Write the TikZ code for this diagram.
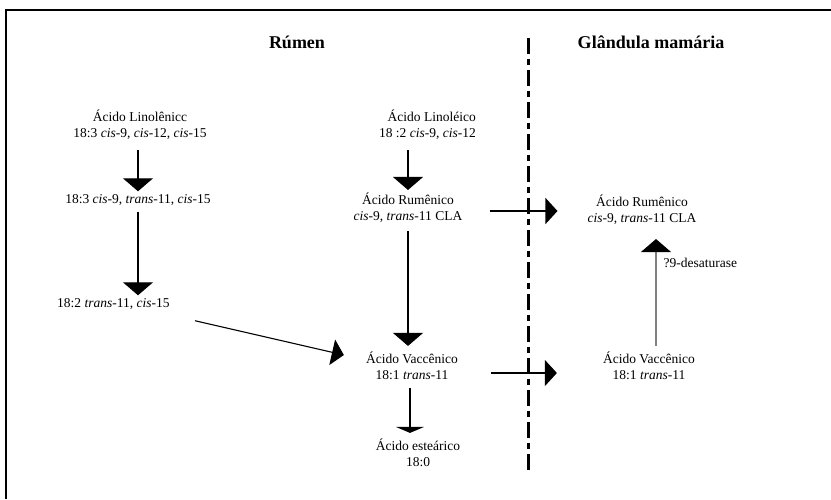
\documentclass[tikz,border=0pt]{standalone}
\usepackage{fontspec}
\setmainfont{Liberation Serif}
\usetikzlibrary{arrows.meta}

\begin{document}
\begin{tikzpicture}[x=1pt, y=-1pt, inner sep=0pt, font=\fontsize{13.5}{16}\selectfont]
    \tikzstyle{acid}=[align=center]
    \tikzstyle{title}=[font=\fontsize{18}{20}\selectfont\bfseries]
    \tikzstyle{down}=[-{Triangle[length=13pt,width=30pt]}, line width=1.1pt]
    \tikzstyle{flat}=[-{Triangle[length=6pt,width=28pt]}, line width=1.1pt]
    \tikzstyle{side}=[-{Triangle[length=12pt,width=26pt]}, line width=1.1pt]
    \tikzstyle{up}=[-{Triangle[length=13pt,width=30pt,color=black]}, line width=1.1pt, draw=gray]

    \useasboundingbox (0,0) rectangle (831,499);

    % frame
    \draw[line width=1.4pt] (6,10) -- (831,10);
    \draw[line width=2.6pt] (6,9) -- (6,499);
    \draw[line width=2.6pt] (6,10) -- (25,10);
    \draw[line width=2.6pt] (824,10) -- (831,10);

    % divider
    \draw[line width=3pt, dash pattern=on 16pt off 5pt on 6pt off 5pt] (528,38) -- (528,472);

    \node[title] (rumen) at (297,42) {Rúmen};
    \node[title] (gland) at (651,42) {Glândula mamária};

    % left column
    \node[acid] (lnA) at (140,125) {Ácido Linolênicc\\18:3 \textit{cis}-9, \textit{cis}-12, \textit{cis}-15};
    \node[acid] (lnB) at (138,200) {18:3 \textit{cis}-9, \textit{trans}-11, \textit{cis}-15};
    \node[anchor=west] (lnC) at (57,304) {18:2 \textit{trans}-11, \textit{cis}-15};

    % middle column
    \node[align=right, anchor=east] (loA) at (476,125) {Ácido Linoléico\\18 :2 \textit{cis}-9, \textit{cis}-12};
    \node[acid] (ruA) at (408,208) {Ácido Rumênico\\\textit{cis}-9, \textit{trans}-11 CLA};
    \node[acid] (vaA) at (412,366) {Ácido Vaccênico\\18:1 \textit{trans}-11};
    \node[acid] (esA) at (418,453) {Ácido esteárico\\18:0};

    % right column
    \node[acid] (ruB) at (642,210) {Ácido Rumênico\\\textit{cis}-9, \textit{trans}-11 CLA};
    \node[acid] (vaB) at (649,366) {Ácido Vaccênico\\18:1 \textit{trans}-11};

    \draw[down, shorten <=10pt, shorten >=3pt] (lnA.south -| lnB) -- (lnB);
    \draw[down, shorten <=6pt, shorten >=3pt] (lnB) -- (lnB |- lnC.north);
    \draw[side] ([xshift=138pt,yshift=-11pt]lnC.south west) -- ([xshift=-22pt,yshift=11pt]vaA.west);
    \draw[down, shorten <=10pt, shorten >=3pt] (ruA.north |- loA.south) -- (ruA.north);
    \draw[down, shorten <=8pt, shorten >=6pt] (ruA) -- (ruA |- vaA.north);
    \draw[flat, shorten <=8pt, shorten >=6pt] ([xshift=-2pt]vaA.south) -- ([xshift=-8pt]esA.north);
    \draw[side, shorten <=27pt, shorten >=30pt] ([yshift=-3pt]ruA.east) -- ([yshift=-1pt]ruB.west);
    \draw[side, shorten <=33pt, shorten >=46pt] ([yshift=-7pt]vaA.east) -- ([yshift=-7pt]vaB.west);
    \draw[up, shorten <=6pt, shorten >=14pt] ([xshift=7pt]vaB.north) -- node[pos=0.7, right=7pt, text=black] {?9-desaturase} ([xshift=14pt]ruB.south);
\end{tikzpicture}
\end{document}
